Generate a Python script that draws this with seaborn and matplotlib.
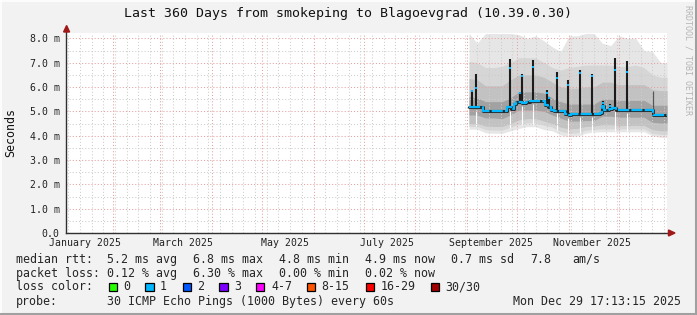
import numpy as np
import pandas as pd
import matplotlib
matplotlib.use("Agg")
import matplotlib.pyplot as plt
import matplotlib.dates as mdates
from matplotlib.ticker import MultipleLocator, FixedLocator
from matplotlib.patches import Polygon, Rectangle
from matplotlib.lines import Line2D
import seaborn as sns

# ---------------- data ----------------
title = "Last 360 Days from smokeping to Blagoevgrad (10.39.0.30)"
x_start = "2025-01-03 17:13:15"
x_end = "2025-12-29 17:13:15"

xlabel_dates = ["2025-01-15", "2025-03-15", "2025-05-15", "2025-07-15", "2025-09-15", "2025-11-15"]
xlabel_text = ["January 2025", "March 2025", "May 2025", "July 2025", "September 2025", "November 2025"]
y_tick_vals = [0, 1, 2, 3, 4, 5, 6, 7, 8]
y_tick_labels = ["0.0", "1.0 m", "2.0 m", "3.0 m", "4.0 m", "5.0 m", "6.0 m", "7.0 m", "8.0 m"]

# smoke (values in ms)
smoke_dates = ["2025-09-02 03:00", "2025-09-07 00:00", "2025-09-12 00:00", "2025-09-17 00:00",
               "2025-09-22 00:00", "2025-09-27 00:00", "2025-10-02 00:00", "2025-10-07 00:00",
               "2025-10-12 00:00", "2025-10-17 00:00", "2025-10-22 00:00", "2025-10-27 00:00",
               "2025-11-01 00:00", "2025-11-06 00:00", "2025-11-11 00:00", "2025-11-16 00:00",
               "2025-11-21 00:00", "2025-11-26 00:00", "2025-12-01 00:00", "2025-12-06 00:00",
               "2025-12-11 00:00", "2025-12-16 00:00", "2025-12-21 00:00", "2025-12-26 00:00",
               "2025-12-29 17:13"]
hi1 = [8.2, 7.8, 8.2, 8.2, 8.2, 8.2, 8.15, 8.0, 8.1, 7.9, 7.65, 7.45, 8.1, 8.1, 8.2, 8.2, 7.8, 7.7,
       8.1, 8.0, 8.0, 7.5, 7.45, 7.0, 7.0]
hi2 = [7.05, 7.0, 6.8, 6.8, 6.85, 7.0, 7.2, 7.2, 7.2, 7.0, 6.8, 6.7, 6.8, 6.85, 6.9, 6.9, 6.9, 6.9,
       6.85, 6.85, 6.9, 6.8, 6.5, 6.4, 6.4]
hi3 = [6.35, 6.3, 6.05, 6.05, 6.05, 6.3, 6.5, 6.5, 6.5, 6.4, 6.2, 6.0, 5.95, 5.95, 6.0, 6.0, 6.2, 6.2,
       6.1, 6.1, 6.1, 6.1, 5.9, 5.85, 5.85]
hi4 = [5.6, 5.55, 5.4, 5.4, 5.4, 5.55, 5.8, 5.8, 5.8, 5.75, 5.55, 5.4, 5.3, 5.3, 5.3, 5.3, 5.5,
       5.5, 5.45, 5.45, 5.45, 5.45, 5.25, 5.25, 5.25]
lo4 = [4.85, 4.85, 4.73, 4.73, 4.7, 4.85, 5.05, 5.05, 5.05, 5.0, 4.85, 4.72, 4.6, 4.6, 4.62, 4.62, 4.8,
       4.8, 4.76, 4.76, 4.76, 4.76, 4.55, 4.52, 4.52]
lo3 = [4.5, 4.5, 4.4, 4.38, 4.38, 4.5, 4.65, 4.7, 4.7, 4.6, 4.5, 4.35, 4.28, 4.3, 4.38, 4.4, 4.45, 4.45,
       4.42, 4.42, 4.42, 4.42, 4.25, 4.2, 4.2]
lo2 = [4.38, 4.38, 4.25, 4.23, 4.23, 4.35, 4.48, 4.53, 4.53, 4.43, 4.35, 4.18, 4.1, 4.12, 4.22, 4.26,
       4.28, 4.28, 4.28, 4.28, 4.28, 4.28, 4.1, 4.05, 4.05]
lo1 = [4.27, 4.27, 4.12, 4.1, 4.1, 4.2, 4.3, 4.37, 4.37, 4.25, 4.2, 4.03, 3.96, 3.98, 4.1, 4.15, 4.16,
       4.16, 4.16, 4.16, 4.16, 4.16, 4.0, 3.93, 3.93]

# median rtt (change points)
med_dates = ["2025-09-02 03:00", "2025-09-10 12:00", "2025-09-20 17:00", "2025-09-24 22:00",
             "2025-09-27 07:00", "2025-09-29 02:00", "2025-09-30 07:00", "2025-10-03 22:00",
             "2025-10-06 07:00", "2025-10-08 17:00", "2025-10-17 17:00", "2025-10-19 12:00",
             "2025-10-21 07:00", "2025-10-23 02:00", "2025-10-28 12:00", "2025-10-29 17:00",
             "2025-11-01 02:00", "2025-11-02 07:00", "2025-11-19 14:00", "2025-11-20 19:00",
             "2025-11-22 00:00", "2025-11-25 00:00", "2025-11-26 19:00", "2025-11-29 05:00",
             "2025-12-21 10:00", "2025-12-29 17:13"]
med_vals = [5.16, 5.03, 5.0, 5.16, 5.1, 5.3, 5.4, 5.35, 5.38, 5.42, 5.28, 5.18, 5.07, 5.0, 5.0, 4.88,
            4.85, 4.9, 4.92, 5.2, 5.05, 5.1, 5.12, 5.06, 4.84, 4.84]

# spikes
spike_dates = ["2025-09-03 18:00", "2025-09-06 11:00", "2025-09-26 19:00", "2025-10-02 17:00",
               "2025-10-03 22:00", "2025-10-10 07:00", "2025-10-18 17:00", "2025-10-20 00:00",
               "2025-10-24 17:00", "2025-10-31 14:00", "2025-11-07 15:00", "2025-11-14 20:00",
               "2025-11-21 15:00", "2025-11-25 12:00", "2025-11-28 12:00", "2025-12-06 00:00",
               "2025-12-21 14:00"]
spike_base = [5.16, 5.16, 5.16, 5.4, 5.35, 5.42, 5.28, 5.18, 5.07, 4.85, 4.9, 4.9, 5.05, 5.1, 5.12, 5.06, 4.84]
spike_top = [5.88, 6.55, 7.15, 5.8, 6.55, 7.1, 5.88, 5.6, 6.6, 6.3, 6.68, 6.55, 5.41, 5.3, 7.2, 7.05, 5.82]
spike_dot = [5.85, 5.95, 6.78, 5.76, 6.45, 6.84, 5.76, 5.55, 6.35, 6.07, 6.57, 6.47, 5.36, 5.22, 6.7, 6.6, np.nan]
gap_low = [np.nan, 4.4, 4.3, np.nan, 4.45, 4.45, np.nan, np.nan, 4.25, 4.0, 4.1, 4.1, np.nan, np.nan,
           4.2, 4.2, np.nan]

loss_labels = ["0", "1", "2", "3", "4-7", "8-15", "16-29", "30/30"]
loss_colors = ["#26ff00", "#00b8ff", "#0059ff", "#7e00ff", "#ff00ff", "#ff5500", "#ff0000", "#a10000"]

stats_rtt = ["5.2 ms avg", "6.8 ms max", "4.8 ms min", "4.9 ms now", "0.7 ms sd", "7.8", "am/s"]
stats_loss = ["0.12 % avg", "6.30 % max", "0.00 % min", "0.02 % now"]
probe_text = "30 ICMP Echo Pings (1000 Bytes) every 60s"
stamp_text = "Mon Dec 29 17:13:15 2025"

# ---------------- style ----------------
sns.set_style("white")
plt.rcParams["font.family"] = ["DejaVu Sans Mono", "DejaVu Sans"]

W, H = 697, 315
fig = plt.figure(figsize=(W / 100, H / 100), dpi=100, facecolor="#f2f2f2")


def fx(x):
    return x / W


def fy(y):
    return 1 - y / H


def to_dt(lst):
    return pd.to_datetime(lst, format="mixed")


ax = fig.add_axes([fx(66), fy(233), (667 - 66) / W, (233 - 32.5) / H])
ax.set_facecolor("white")

sd = to_dt(smoke_dates)
layers = [(lo1, hi1, "#e6e6e6"), (lo2, hi2, "#d6d6d6"), (lo3, hi3, "#c2c2c2"), (lo4, hi4, "#a2a2a2")]
for lo, hi, c in layers:
    ax.fill_between(sd, lo, hi, color=c, lw=0, zorder=1)

spd = to_dt(spike_dates)
gl = np.array(gap_low)
sb = np.array(spike_base)
m = ~np.isnan(gl)
ax.vlines(spd[m], gl[m], sb[m] - 0.12, color="white", lw=0.8, zorder=1.5)

med_df = pd.DataFrame({"date": to_dt(med_dates), "rtt": med_vals})
sns.lineplot(data=med_df, x="date", y="rtt", ax=ax, color="#2a2a2a", lw=2.2,
             drawstyle="steps-post", legend=False, zorder=2.7)

dots = np.array(spike_dot)
dm = ~np.isnan(dots)
tops = np.array(spike_top)
ax.vlines(spd[dm], sb[dm], tops[dm], color="#1c1c1c", lw=1.5, zorder=2.8)
ax.vlines(spd[~dm], sb[~dm], tops[~dm], color="#555555", lw=0.9, zorder=2.8)

sns.lineplot(data=med_df, x="date", y="rtt", ax=ax, color="#00b8ff", lw=1.6,
             drawstyle="steps-post", legend=False, zorder=3, dashes=False,
             linestyle=(0, (5, 1)))
dot_df = pd.DataFrame({"date": spd[dm], "v": dots[dm]})
sns.scatterplot(data=dot_df, x="date", y="v", ax=ax, color="#00b8ff", marker="s", s=3,
                linewidth=0, legend=False, zorder=3.1)

# axes / grid
ax.set_xlim(pd.Timestamp(x_start), pd.Timestamp(x_end))
ax.set_ylim(0, 8.24)
ax.yaxis.set_major_locator(FixedLocator(y_tick_vals))
ax.set_yticklabels(y_tick_labels)
ax.yaxis.set_minor_locator(MultipleLocator(0.5))
ax.xaxis.set_major_locator(mdates.MonthLocator())
ax.xaxis.set_minor_locator(mdates.WeekdayLocator(byweekday=mdates.SU))
ax.set_axisbelow(False)
ax.grid(True, which="minor", color="#cdcdcd", ls=(0, (1, 2)), lw=0.75)
ax.grid(True, which="major", color="#e6a0a0", ls=(0, (1, 2)), lw=0.75)
ax.tick_params(axis="both", which="both", direction="out", length=2.3, width=0.7,
               color="#9a9a9a", labelsize=7.1, labelcolor="#222222", pad=2.2)
ax.tick_params(axis="x", which="both", labelbottom=False)
ax.set_xlabel("")
ax.set_ylabel("")
for s in ["top", "right"]:
    ax.spines[s].set_visible(False)
for s in ["left", "bottom"]:
    ax.spines[s].set_color("#303030")
    ax.spines[s].set_linewidth(1.0)
    ax.spines[s].set_zorder(4)

for d, t in zip(xlabel_dates, xlabel_text):
    ax.text(pd.Timestamp(d), -9.7 / 200.5, t, transform=ax.get_xaxis_transform(),
            ha="center", va="center", fontsize=7.1, color="#222222")

# arrows
fig.add_artist(Polygon([[fx(66.6), fy(25.5)], [fx(63.6), fy(32)], [fx(69.6), fy(32)]],
                       closed=True, color="#a01818", transform=fig.transFigure))
fig.add_artist(Polygon([[fx(675), fy(233)], [fx(668.5), fy(230)], [fx(668.5), fy(236)]],
                       closed=True, color="#a01818", transform=fig.transFigure))

# texts
fig.text(fx(347.5), fy(13), title, ha="center", va="center", fontsize=9.5, color="#111111")
fig.text(fx(10.5), fy(132.5), "Seconds", rotation=90, ha="center", va="center", fontsize=8.4,
         color="#111111")
fig.text(fx(688), fy(5), "RRDTOOL / TOBI OETIKER", rotation=270, ha="center", va="top",
         fontsize=6.0, color="#b5b5b5")

fs = 8.4
row_y = [259.3, 273.3, 286.7, 301.7]
fig.text(fx(16), fy(row_y[0]), "median rtt:", ha="left", va="center", fontsize=fs)
for xp, t in zip([107, 193, 279, 365, 451, 530, 572], stats_rtt):
    fig.text(fx(xp), fy(row_y[0]), t, ha="left", va="center", fontsize=fs)
fig.text(fx(16), fy(row_y[1]), "packet loss:", ha="left", va="center", fontsize=fs)
for xp, t in zip([107, 193, 279, 365], stats_loss):
    fig.text(fx(xp), fy(row_y[1]), t, ha="left", va="center", fontsize=fs)
fig.text(fx(16), fy(row_y[2]), "loss color:", ha="left", va="center", fontsize=fs)
box_x = [109, 145.3, 182.7, 219.3, 256, 307, 365.7, 430.7]
txt_x = [123, 160, 197.3, 234.3, 271, 321.7, 380.7, 445.7]
for bx, tx, lab, c in zip(box_x, txt_x, loss_labels, loss_colors):
    fig.add_artist(Rectangle((fx(bx), fy(290.8)), 8.2 / W, 8.2 / H, facecolor=c,
                             edgecolor="black", lw=0.9, transform=fig.transFigure))
    fig.text(fx(tx), fy(row_y[2]), lab, ha="left", va="center", fontsize=fs)
fig.text(fx(16), fy(row_y[3]), "probe:", ha="left", va="center", fontsize=fs)
fig.text(fx(107), fy(row_y[3]), probe_text, ha="left", va="center", fontsize=fs)
fig.text(fx(513), fy(row_y[3]), stamp_text, ha="left", va="center", fontsize=fs)

# frame
fig.add_artist(Line2D([fx(0.7), fx(0.7)], [0, 1], color="white", lw=1.2, transform=fig.transFigure))
fig.add_artist(Line2D([0, 1], [fy(0.7), fy(0.7)], color="white", lw=1.2, transform=fig.transFigure))
fig.add_artist(Line2D([fx(695.8), fx(695.8)], [0, 1], color="#a0a0a0", lw=2.2, transform=fig.transFigure))
fig.add_artist(Line2D([0, 1], [fy(313.8), fy(313.8)], color="#a0a0a0", lw=2.2, transform=fig.transFigure))

fig.savefig("out.png", dpi=100, facecolor=fig.get_facecolor())
